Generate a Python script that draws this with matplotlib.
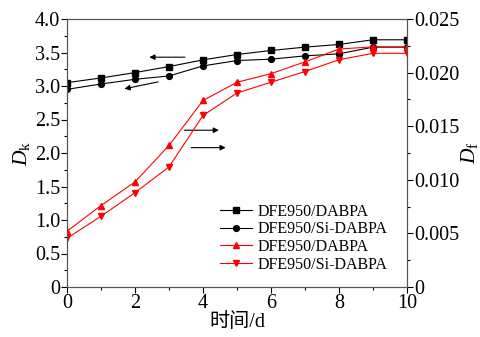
import matplotlib
matplotlib.use("Agg")
import matplotlib.pyplot as plt
from matplotlib.ticker import MultipleLocator

plt.rcParams['font.family'] = ['Liberation Serif', 'Noto Sans CJK SC']
plt.rcParams['mathtext.fontset'] = 'custom'
plt.rcParams['mathtext.it'] = 'Liberation Serif:italic'
plt.rcParams['mathtext.rm'] = 'Liberation Serif'

days = [0, 1, 2, 3, 4, 5, 6, 7, 8, 9, 10]
dk_dabpa = [3.05, 3.12, 3.20, 3.29, 3.39, 3.47, 3.53, 3.58, 3.62, 3.69, 3.69]
dk_si = [2.95, 3.03, 3.10, 3.15, 3.30, 3.38, 3.40, 3.45, 3.48, 3.58, 3.58]
df_dabpa = [0.0052, 0.0076, 0.0098, 0.0132, 0.0174, 0.0191, 0.0199, 0.0210, 0.0222, 0.0224, 0.0224]
df_si = [0.00455, 0.0066, 0.0088, 0.0112, 0.0160, 0.0181, 0.0191, 0.0201, 0.0212, 0.0218, 0.0218]
labels = ['DFE950/DABPA', 'DFE950/Si-DABPA', 'DFE950/DABPA', 'DFE950/Si-DABPA']

fig = plt.figure(figsize=(4.81, 3.37), dpi=100)
ax = fig.add_axes([67/481, 1-287/337, 340/481, 268/337])
ax2 = ax.twinx()

fs = 14.5
l1, = ax.plot(days, dk_dabpa, color='black', marker='s', markersize=4, lw=0.8)
l2, = ax.plot(days, dk_si, color='black', marker='o', markersize=4.2, lw=0.8)
l3, = ax2.plot(days, df_dabpa, color='red', marker='^', markersize=5, lw=0.8)
l4, = ax2.plot(days, df_si, color='red', marker='v', markersize=5, lw=0.8)

ax.set_xlim(0, 10)
ax.set_ylim(0, 4.0)
ax2.set_ylim(0, 0.025)
ax.xaxis.set_major_locator(MultipleLocator(2))
ax.xaxis.set_minor_locator(MultipleLocator(1))
ax.yaxis.set_major_locator(MultipleLocator(0.5))
ax.yaxis.set_minor_locator(MultipleLocator(0.25))
ax2.yaxis.set_major_locator(MultipleLocator(0.005))
ax2.yaxis.set_minor_locator(MultipleLocator(0.0025))

def yfmt(v, p):
    return '0' if abs(v) < 1e-9 else f'{v:.1f}'
def y2fmt(v, p):
    return '0' if abs(v) < 1e-12 else f'{v:.3f}'
ax.yaxis.set_major_formatter(plt.FuncFormatter(yfmt))
ax2.yaxis.set_major_formatter(plt.FuncFormatter(y2fmt))

for a in (ax, ax2):
    a.tick_params(which='major', direction='out', length=4, width=0.8, labelsize=fs, pad=1)
    a.tick_params(which='minor', direction='out', length=2.5, width=0.8)
    for s in a.spines.values():
        s.set_color('#555555')
        s.set_linewidth(0.8)

ax.set_xlabel('时间/d', fontsize=fs, labelpad=0)
ax.set_ylabel(r'$D_\mathrm{k}$', fontsize=fs + 1, labelpad=2)
ax2.set_ylabel(r'$D_\mathrm{f}$', fontsize=fs + 1, labelpad=0)

arrow_kw = dict(arrowstyle='-|>', color='black', lw=0.8, mutation_scale=8)
ax.annotate('', xy=(2.34, 3.43), xytext=(3.55, 3.43), arrowprops=arrow_kw)
ax.annotate('', xy=(1.61, 2.95), xytext=(2.76, 3.07), arrowprops=arrow_kw)
ax.annotate('', xy=(4.55, 2.34), xytext=(3.37, 2.34), arrowprops=arrow_kw)
ax.annotate('', xy=(4.75, 2.08), xytext=(3.57, 2.08), arrowprops=arrow_kw)

leg = ax2.legend([l1, l2, l3, l4], labels, loc='lower left', bbox_to_anchor=(0.43, 0.03),
                 frameon=False, fontsize=11.5, handlelength=2.0, handletextpad=0.4,
                 labelspacing=0.1, borderaxespad=0)

fig.savefig('out.png', dpi=100)
